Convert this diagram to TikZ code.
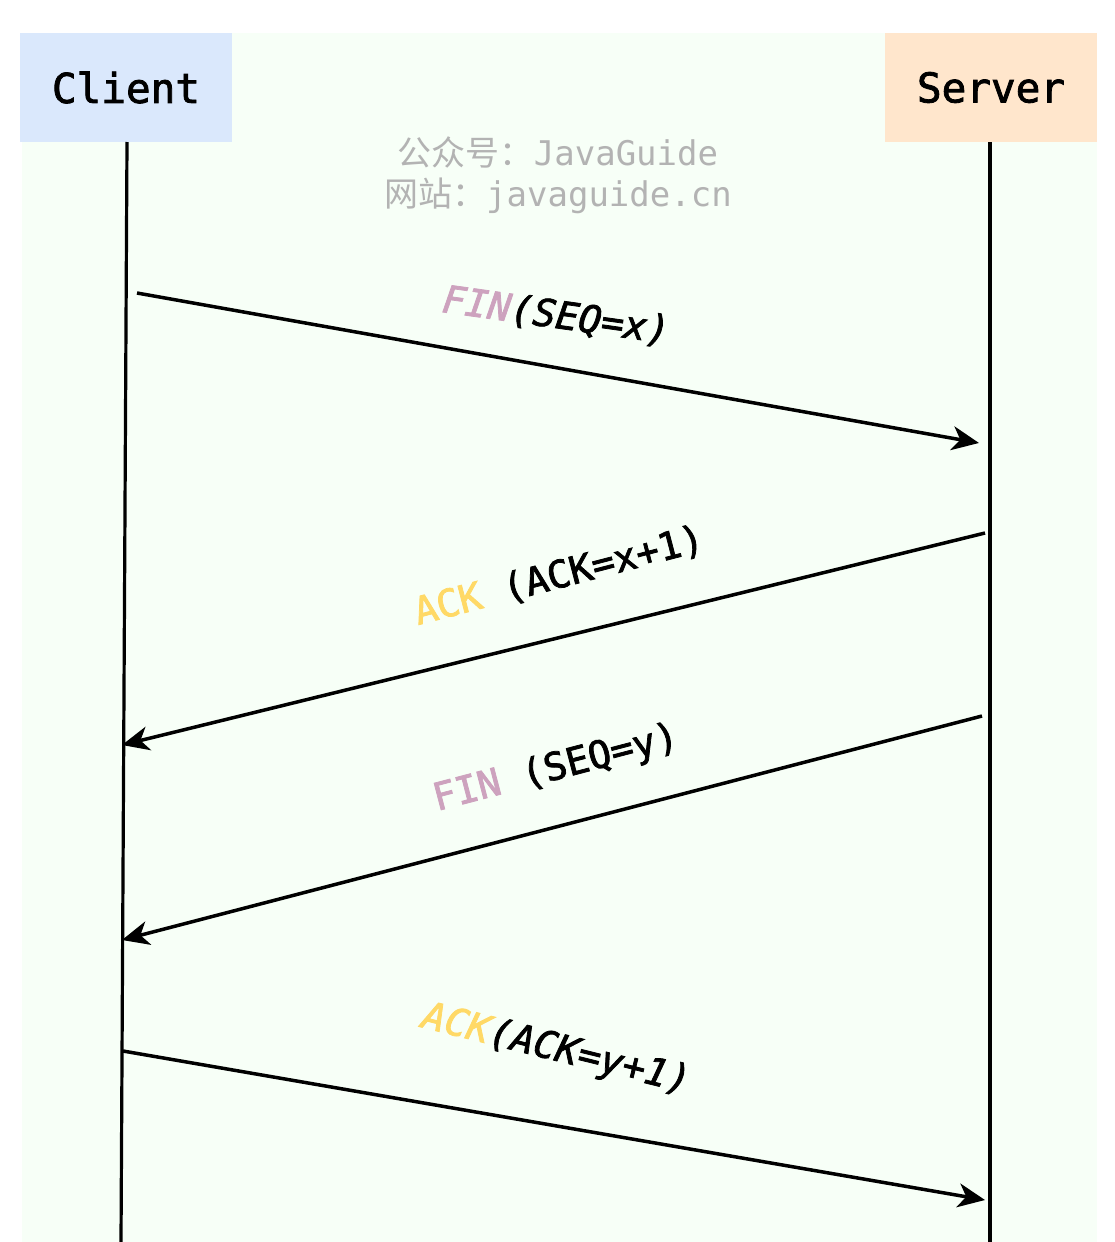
\documentclass[tikz,border=0pt]{standalone}
\usepackage{fontspec}
\setmonofont{DejaVu Sans Mono}
\newfontfamily\monomed{DejaVu Sans Mono}[UprightFeatures={FakeBold=2},ItalicFeatures={FakeBold=2}]
\newfontfamily\cjk{Noto Sans CJK SC}
\usetikzlibrary{arrows.meta}
\definecolor{bgmint}{HTML}{F7FFF7}
\definecolor{clientblue}{HTML}{DAE8FC}
\definecolor{serverorange}{HTML}{FFE6CC}
\definecolor{finpurple}{HTML}{CDA2BE}
\definecolor{ackyellow}{HTML}{FFD966}
\definecolor{wmgray}{HTML}{B3B3B3}
\begin{document}
\begin{tikzpicture}[x=1pt,y=-1pt,
  actor/.style={minimum width=212pt,minimum height=109pt,inner sep=0pt,
    font=\monomed\fontsize{41}{48}\selectfont},
  lifeline/.style={line width=3.2pt},
  msg/.style={line width=3.5pt,-{Stealth[length=27pt,width=24pt,inset=8pt]}},
  lbl/.style={inner sep=0pt,font=\monomed\fontsize{38}{44}\selectfont},
  wm/.style={inner sep=0pt,text=wmgray,font=\fontsize{34}{40}\selectfont}]
\useasboundingbox (0,0) rectangle (1114,1242);
\fill[white] (0,0) rectangle (1114,1242);
\fill[bgmint] (22,33) rectangle (1097,1242);
\node[actor,fill=clientblue] (client) at (126,87.5) {Client};
\node[actor,fill=serverorange] (server) at (991,87.5) {Server};
\coordinate (ctop) at (127,142);
\coordinate (cbot) at (121,1242);
\coordinate (stop) at (990,142);
\coordinate (sbot) at (990,1242);
\draw[lifeline] (ctop) -- (cbot);
\draw[lifeline] (stop) -- (sbot);
% watermark
\node[wm] (wm1) at (558,152) {{\cjk 公众号：}{\ttfamily JavaGuide}};
\node[wm] (wm2) at (558,196) {{\cjk 网站：}{\ttfamily javaguide.cn}};
% message end points
\coordinate (m1a) at (137,293);
\coordinate (m1b) at (979,443);
\coordinate (m2a) at (985,533);
\coordinate (m2b) at (122,745);
\coordinate (m3a) at (982,716);
\coordinate (m3b) at (122,940);
\coordinate (m4a) at (123,1051);
\coordinate (m4b) at (985,1200);
\draw[msg] (m1a) -- (m1b);
\draw[msg] (m2a) -- (m2b);
\draw[msg] (m3a) -- (m3b);
\draw[msg] (m4a) -- (m4b);
% labels
\node[lbl,rotate=-8] (l1) at (556,316) {\itshape\textcolor{finpurple}{FIN}(SEQ=x)};
\node[lbl,rotate=14.6] (l2) at (559,576) {\textcolor{ackyellow}{ACK} (ACK=x+1)};
\node[lbl,rotate=14.7] (l3) at (556,769) {\textcolor{finpurple}{FIN} (SEQ=y)};
\node[lbl,rotate=-14] (l4) at (556,1050) {\itshape\textcolor{ackyellow}{ACK}(ACK=y+1)};
\end{tikzpicture}
\end{document}
